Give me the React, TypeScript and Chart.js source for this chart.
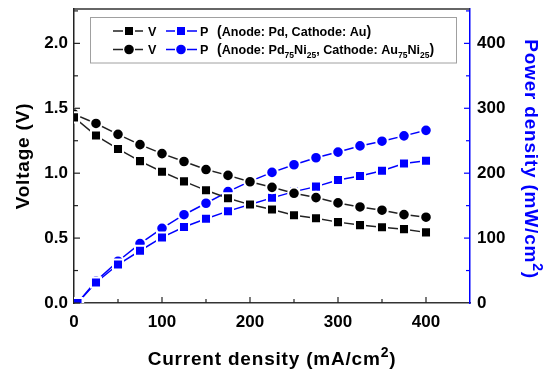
import React, { useEffect, useRef } from "react";
import { Chart, registerables } from "chart.js";

Chart.register(...registerables);

// ---- data ----
const currentV = [0, 25, 50, 75, 100, 125, 150, 175, 200, 225, 250, 275, 300, 325, 350, 375, 400];
const currentP = [4, 25, 50, 75, 100, 125, 150, 175, 200, 225, 250, 275, 300, 325, 350, 375, 400];
const voltagePd = [1.43, 1.29, 1.187, 1.093, 1.011, 0.937, 0.868, 0.807, 0.758, 0.72, 0.676, 0.653, 0.623, 0.6, 0.584, 0.569, 0.544];
const powerPd = [0, 31.7, 59.3, 80.5, 101, 117, 129.8, 141.5, 151.7, 162, 171.6, 179.3, 189.6, 195.7, 203.8, 215, 219];
const voltagePdNi = [1.455, 1.383, 1.299, 1.22, 1.151, 1.09, 1.028, 0.983, 0.934, 0.891, 0.845, 0.812, 0.771, 0.74, 0.715, 0.681, 0.661];
const powerPdNi = [0, 33.7, 64.4, 91.5, 115, 136, 153.7, 171.6, 187.4, 201.2, 213, 223.8, 232.5, 242, 249.3, 257.5, 266];

const xTicks = [0, 100, 200, 300, 400];
const yTicks = [0, 0.5, 1.0, 1.5, 2.0];
const y1Ticks = [0, 100, 200, 300, 400];

const BLUE = "#0000ff";
const BLACK = "#000000";
const FONT = '"Liberation Sans", Arial, sans-serif';

const pts = (xs: number[], ys: number[]) => xs.map((x, i) => ({ x, y: ys[i] }));

function drawSegs(ctx: CanvasRenderingContext2D, parts: { t: string; size: number; dy: number }[], x: number, y: number, spacing: number) {
  let cx = x;
  for (const p of parts) {
    ctx.font = `bold ${p.size}px ${FONT}`;
    (ctx as any).letterSpacing = `${spacing}px`;
    ctx.fillText(p.t, cx, y + p.dy);
    cx += ctx.measureText(p.t).width;
  }
  (ctx as any).letterSpacing = "0px";
}
function segsWidth(ctx: CanvasRenderingContext2D, parts: { t: string; size: number; dy: number }[], spacing: number) {
  let w = 0;
  for (const p of parts) {
    ctx.font = `bold ${p.size}px ${FONT}`;
    (ctx as any).letterSpacing = `${spacing}px`;
    w += ctx.measureText(p.t).width;
  }
  (ctx as any).letterSpacing = "0px";
  return w;
}

function marker(ctx: CanvasRenderingContext2D, type: string, x: number, y: number, color: string) {
  ctx.fillStyle = color;
  if (type === "rect") {
    ctx.fillRect(x - 4, y - 4, 8, 8);
  } else {
    ctx.beginPath();
    ctx.arc(x, y, 4.8, 0, Math.PI * 2);
    ctx.fill();
  }
}

const decorPlugin = {
  id: "decor",
  afterDraw(chart: any) {
    const ctx: CanvasRenderingContext2D = chart.ctx;
    const { left, right, top, bottom } = chart.chartArea;
    const xs = chart.scales.x;
    const ys = chart.scales.y;
    const y1 = chart.scales.y1;
    ctx.save();
    // top frame line
    ctx.strokeStyle = "#333";
    ctx.lineWidth = 1.5;
    ctx.beginPath();
    ctx.moveTo(left, top);
    ctx.lineTo(right, top);
    ctx.stroke();
    // inward ticks
    ctx.lineWidth = 1.2;
    ctx.strokeStyle = "#222";
    for (let v = 0; v <= 2.25 + 1e-6; v += 0.25) {
      const p = ys.getPixelForValue(v);
      const len = Math.abs((v * 2) % 1) < 1e-6 ? 6 : 4;
      ctx.beginPath();
      ctx.moveTo(left, p);
      ctx.lineTo(left + len, p);
      ctx.stroke();
    }
    for (let v = 50; v < 450; v += 50) {
      const p = xs.getPixelForValue(v);
      const len = v % 100 === 0 ? 6 : 4;
      ctx.beginPath();
      ctx.moveTo(p, bottom);
      ctx.lineTo(p, bottom - len);
      ctx.stroke();
    }
    ctx.strokeStyle = BLUE;
    for (let v = 50; v <= 450; v += 50) {
      const p = y1.getPixelForValue(v);
      const len = v % 100 === 0 ? 6 : 4;
      ctx.beginPath();
      ctx.moveTo(right, p);
      ctx.lineTo(right - len, p);
      ctx.stroke();
    }

    // axis titles
    const sp = 0.8;
    ctx.fillStyle = BLACK;
    ctx.textBaseline = "alphabetic";
    ctx.textAlign = "left";
    const xParts = [
      { t: "Current density (mA/cm", size: 19, dy: 0 },
      { t: "2", size: 14, dy: -8 },
      { t: ")", size: 19, dy: 0 },
    ];
    const xw = segsWidth(ctx, xParts, sp);
    drawSegs(ctx, xParts, (left + right) / 2 - xw / 2, 365, sp);

    const yParts = [{ t: "Voltage (V)", size: 19, dy: 0 }];
    ctx.save();
    ctx.translate(29, (top + bottom) / 2);
    ctx.rotate(-Math.PI / 2);
    const yw = segsWidth(ctx, yParts, sp);
    drawSegs(ctx, yParts, -yw / 2, 0, sp);
    ctx.restore();

    const rParts = [
      { t: "Power density (mW/cm", size: 19, dy: 0 },
      { t: "2", size: 14, dy: -8 },
      { t: ")", size: 19, dy: 0 },
    ];
    ctx.save();
    ctx.fillStyle = BLUE;
    ctx.translate(525, (top + bottom) / 2 + 3);
    ctx.rotate(Math.PI / 2);
    const rw = segsWidth(ctx, rParts, sp);
    drawSegs(ctx, rParts, -rw / 2, 0, sp);
    ctx.restore();

    // legend
    ctx.fillStyle = "#fff";
    ctx.fillRect(90, 17, 367, 46);
    ctx.strokeStyle = "#a0a0a0";
    ctx.lineWidth = 1;
    ctx.strokeRect(90.5, 17.5, 366, 45.5);
    const rows = [
      { y: 31, type: "rect", parts: [
        { t: "(", size: 14, dy: 0 },
        { t: "Anode: Pd, Cathode: Au", size: 12.6, dy: 0 },
        { t: ")", size: 14, dy: 0 },
      ] },
      { y: 49.5, type: "circle", parts: [
        { t: "(", size: 14, dy: 0 },
        { t: "Anode: Pd", size: 12.6, dy: 0 },
        { t: "75", size: 8.5, dy: 4 },
        { t: "Ni", size: 12.6, dy: 0 },
        { t: "25", size: 8.5, dy: 4 },
        { t: ", Cathode: Au", size: 12.6, dy: 0 },
        { t: "75", size: 8.5, dy: 4 },
        { t: "Ni", size: 12.6, dy: 0 },
        { t: "25", size: 8.5, dy: 4 },
        { t: ")", size: 14, dy: 0 },
      ] },
    ];
    for (const r of rows) {
      const items = [
        { x1: 113, x2: 143, mx: 129, color: "#222", label: "V", lx: 148 },
        { x1: 166, x2: 197, mx: 181, color: BLUE, label: "P", lx: 200 },
      ];
      for (const it of items) {
        ctx.strokeStyle = it.color;
        ctx.lineWidth = 1.5;
        ctx.beginPath();
        ctx.moveTo(it.x1, r.y);
        ctx.lineTo(it.mx - 6, r.y);
        ctx.moveTo(it.mx + 6, r.y);
        ctx.lineTo(it.x2, r.y);
        ctx.stroke();
        marker(ctx, r.type, it.mx, r.y, it.color === BLUE ? BLUE : BLACK);
        ctx.fillStyle = BLACK;
        ctx.font = `bold 12.6px ${FONT}`;
        ctx.textBaseline = "alphabetic";
        ctx.fillText(it.label, it.lx, r.y + 4.5);
      }
      ctx.fillStyle = BLACK;
      drawSegs(ctx, r.parts.map((p) => ({ ...p, dy: p.dy + 4.5 })), 217, r.y, 0);
    }
    ctx.restore();
  },
};

export default function App() {
  const ref = useRef<HTMLCanvasElement | null>(null);
  useEffect(() => {
    document.body.style.margin = "0";
    const canvas = ref.current;
    if (!canvas) return;
    const zeroPad = (s: any) => {
      s.paddingTop = 0;
      s.paddingBottom = 0;
      s.paddingLeft = 0;
      s.paddingRight = 0;
    };
    const common = {
      showLine: true,
      borderWidth: 1.5,
      pointBorderColor: "#ffffff",
      pointBorderWidth: 2,
      pointHoverRadius: 6,
    };
    const chart = new Chart(canvas, {
      type: "scatter",
      data: {
        datasets: [
          { ...common, label: "V Pd", data: pts(currentV, voltagePd), yAxisID: "y", borderColor: "#222", pointBackgroundColor: BLACK, pointStyle: "rect", pointRadius: 7.1 },
          { ...common, label: "V PdNi", data: pts(currentV, voltagePdNi), yAxisID: "y", borderColor: "#222", pointBackgroundColor: BLACK, pointStyle: "circle", pointRadius: 5.8 },
          { ...common, label: "P Pd", data: pts(currentP, powerPd), yAxisID: "y1", borderColor: BLUE, pointBackgroundColor: BLUE, pointStyle: "rect", pointRadius: 7.1 },
          { ...common, label: "P PdNi", data: pts(currentP, powerPdNi), yAxisID: "y1", borderColor: BLUE, pointBackgroundColor: BLUE, pointStyle: "circle", pointRadius: 5.8 },
        ],
      } as any,
      options: {
        animation: false,
        responsive: false,
        maintainAspectRatio: false,
        layout: { padding: { top: 7, left: 0, right: 0, bottom: 0 } },
        plugins: { legend: { display: false }, tooltip: { enabled: false } },
        scales: {
          x: {
            type: "linear",
            position: "bottom",
            min: 0,
            max: 450,
            afterBuildTicks: (s: any) => { s.ticks = xTicks.map((v) => ({ value: v })); },
            afterFit: (s: any) => { s.height = 68; zeroPad(s); },
            grid: { display: false, drawTicks: false },
            border: { display: true, color: "#333", width: 1.5 },
            ticks: { color: BLACK, font: { family: FONT, size: 17, weight: "bold" }, padding: 9, maxRotation: 0 },
          },
          y: {
            type: "linear",
            position: "left",
            min: 0,
            max: 2.264,
            afterBuildTicks: (s: any) => { s.ticks = yTicks.map((v) => ({ value: v })); },
            afterFit: (s: any) => { s.width = 74; zeroPad(s); },
            grid: { display: false, drawTicks: false },
            border: { display: true, color: "#222", width: 1.5 },
            ticks: { color: BLACK, font: { family: FONT, size: 17, weight: "bold" }, padding: 6, callback: (v: any) => Number(v).toFixed(1) },
          },
          y1: {
            type: "linear",
            position: "right",
            min: 0,
            max: 452.8,
            afterBuildTicks: (s: any) => { s.ticks = y1Ticks.map((v) => ({ value: v })); },
            afterFit: (s: any) => { s.width = 85; zeroPad(s); },
            grid: { display: false, drawTicks: false },
            border: { display: true, color: BLUE, width: 1.5 },
            ticks: { color: BLACK, font: { family: FONT, size: 17, weight: "bold" }, padding: 7 },
          },
        },
      } as any,
      plugins: [decorPlugin],
    });
    return () => chart.destroy();
  }, []);
  return (
    <div style={{ width: 555, height: 371, background: "#fff" }}>
      <canvas ref={ref} width={555} height={371} style={{ display: "block" }} />
    </div>
  );
}
